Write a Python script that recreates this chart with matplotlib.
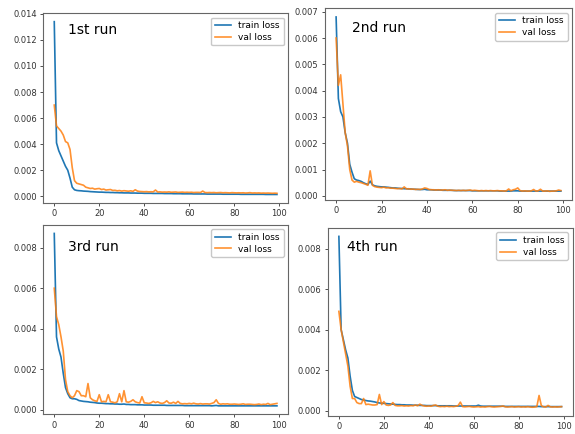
import numpy as np
import matplotlib
matplotlib.use("Agg")
import matplotlib.pyplot as plt
from matplotlib.ticker import MultipleLocator

# loss values, in units of 1e-4
epochs = np.arange(100)

train1 = np.array([
    134, 41, 35, 31, 27, 23, 20, 14, 7, 5,
    4.5, 4.3, 4.2, 4.0, 3.9, 3.8, 3.6, 3.5, 3.4, 3.3,
    3.2, 3.2, 3.1, 3.0, 3.0, 2.9, 2.9, 2.8, 2.8, 2.7,
    2.7, 2.6, 2.6, 2.6, 2.5, 2.5, 2.5, 2.4, 2.4, 2.4,
    2.3, 2.3, 2.3, 2.3, 2.2, 2.2, 2.2, 2.2, 2.2, 2.1,
    2.1, 2.1, 2.1, 2.0, 2.0, 2.0, 2.0, 1.9, 1.9, 1.9,
    1.9, 1.9, 1.8, 1.8, 1.8, 1.8, 1.8, 1.8, 1.7, 1.7,
    1.7, 1.7, 1.7, 1.7, 1.7, 1.6, 1.6, 1.6, 1.6, 1.6,
    1.6, 1.6, 1.6, 1.5, 1.5, 1.5, 1.5, 1.5, 1.5, 1.5,
    1.5, 1.5, 1.5, 1.5, 1.4, 1.4, 1.4, 1.4, 1.4, 1.4]) * 1e-4
val1 = np.array([
    70, 54, 52, 50, 47, 42, 41, 36, 22, 12,
    10, 9.5, 9.0, 8.5, 7.0, 6.5, 6.0, 6.2, 5.5, 5.8,
    6.0, 5.2, 5.5, 4.8, 5.0, 5.2, 4.5, 4.6, 4.2, 4.4,
    4.0, 4.3, 4.1, 3.9, 4.2, 3.8, 5.0, 4.0, 3.7, 3.6,
    3.5, 3.6, 3.4, 3.5, 3.4, 4.8, 3.3, 3.4, 3.2, 3.3,
    3.2, 3.4, 3.1, 3.2, 3.3, 3.0, 3.1, 3.2, 3.0, 3.1,
    3.0, 3.1, 2.9, 3.0, 3.0, 2.9, 4.0, 2.9, 2.8, 2.9,
    2.8, 2.9, 2.7, 2.8, 2.9, 2.7, 2.8, 2.7, 2.6, 2.8,
    2.7, 2.6, 2.7, 2.6, 2.7, 2.5, 2.6, 2.8, 2.5, 2.6,
    2.5, 2.6, 2.4, 2.5, 2.4, 2.5, 2.4, 2.3, 2.4, 2.3]) * 1e-4

train2 = np.array([
    68, 37, 32, 30, 24, 20, 12, 9, 6.5, 6.0,
    5.8, 5.5, 5.0, 4.6, 4.3, 5.6, 4.2, 3.8, 3.6, 3.5,
    3.4, 3.4, 3.3, 3.2, 3.1, 3.0, 3.0, 2.9, 2.8, 2.8,
    2.7, 2.7, 2.6, 2.6, 2.5, 2.5, 2.4, 2.4, 2.4, 2.5,
    2.3, 2.3, 2.3, 2.2, 2.2, 2.2, 2.2, 2.1, 2.1, 2.1,
    2.1, 2.1, 2.0, 2.0, 2.0, 2.0, 2.0, 2.0, 2.0, 2.0,
    1.9, 1.9, 1.9, 1.9, 1.9, 1.9, 1.9, 1.9, 1.9, 1.9,
    1.9, 1.9, 1.8, 1.8, 1.8, 1.8, 1.8, 1.8, 1.9, 1.9,
    1.9, 1.8, 1.8, 1.8, 1.8, 1.8, 1.8, 1.8, 1.8, 1.8,
    1.8, 1.8, 1.8, 1.8, 1.8, 1.8, 1.8, 1.8, 1.8, 1.8]) * 1e-4
val2 = np.array([
    60, 42, 46, 35, 24, 19, 10, 6, 5.2, 5.5,
    5.2, 5.0, 4.7, 4.4, 4.0, 9.5, 4.0, 3.5, 3.3, 3.2,
    3.1, 3.3, 3.0, 3.1, 2.9, 2.9, 2.8, 2.7, 2.8, 2.6,
    3.4, 2.6, 2.7, 2.5, 2.6, 2.4, 2.5, 2.4, 2.6, 3.0,
    2.8, 2.4, 2.3, 2.3, 2.2, 2.3, 2.2, 2.2, 2.3, 2.1,
    2.2, 2.1, 2.1, 2.0, 2.1, 2.0, 2.1, 2.0, 2.1, 2.2,
    2.0, 2.1, 2.0, 1.9, 2.0, 1.9, 2.0, 1.9, 2.0, 1.9,
    1.9, 2.0, 1.9, 1.9, 1.8, 1.9, 2.6, 1.9, 2.3, 2.5,
    3.0, 2.0, 1.8, 1.9, 1.8, 1.8, 1.9, 2.4, 1.8, 1.9,
    2.5, 1.8, 1.8, 1.9, 1.7, 1.8, 1.8, 1.9, 2.2, 2.0]) * 1e-4

train3 = np.array([
    87, 36, 30, 26, 18, 11, 8, 6, 5.5, 5.5,
    5.2, 4.6, 4.4, 4.2, 4.1, 4.0, 3.8, 3.7, 3.6, 3.4,
    3.3, 3.3, 3.2, 3.1, 3.1, 3.0, 3.0, 2.9, 2.9, 2.8,
    2.8, 2.9, 2.7, 2.7, 2.6, 2.6, 2.6, 2.5, 2.5, 2.5,
    2.4, 2.4, 2.4, 2.4, 2.3, 2.3, 2.3, 2.3, 2.3, 2.3,
    2.2, 2.2, 2.2, 2.2, 2.2, 2.2, 2.2, 2.2, 2.1, 2.1,
    2.1, 2.1, 2.1, 2.1, 2.1, 2.1, 2.1, 2.1, 2.1, 2.1,
    2.0, 2.1, 2.2, 2.0, 2.0, 2.0, 2.0, 2.0, 2.0, 2.0,
    2.0, 2.0, 2.0, 2.0, 2.0, 2.0, 2.0, 2.0, 2.0, 2.0,
    2.0, 2.0, 2.0, 2.0, 2.0, 2.0, 2.0, 2.0, 2.0, 2.0]) * 1e-4
val3 = np.array([
    60, 46, 42, 36, 29, 15, 9, 7, 6, 7,
    9.5, 9, 7, 7, 6.5, 13, 6, 5, 4.5, 4.2,
    7.5, 4, 4.2, 4, 7.5, 4, 3.8, 3.5, 4, 8,
    4, 9.5, 4, 3.8, 4.2, 5, 4, 3.6, 3.4, 6.5,
    3.5, 3.4, 3.2, 3.5, 4.2, 3.6, 4.0, 3.4, 3.2, 3.6,
    4.5, 3.4, 3.3, 3.8, 3.2, 4.2, 3.2, 3.0, 3.1, 3.0,
    3.2, 3.0, 3.3, 3.0, 2.9, 3.1, 2.9, 3.0, 3.0, 2.9,
    3.2, 3.6, 5.0, 3.2, 2.8, 3.0, 2.9, 3.0, 2.8, 2.8,
    2.9, 2.8, 2.7, 2.8, 3.0, 2.7, 2.8, 2.8, 2.7, 2.6,
    2.7, 2.9, 2.6, 2.8, 2.7, 3.2, 2.6, 2.8, 3.0, 3.2]) * 1e-4

train4 = np.array([
    86, 40, 35, 30, 26, 17, 10, 7, 6.5, 6.0,
    5.5, 5.3, 5.0, 4.8, 4.7, 4.5, 4.3, 4.0, 3.8, 3.7,
    3.6, 3.5, 3.4, 3.3, 3.2, 3.1, 3.0, 3.0, 2.9, 2.9,
    2.8, 2.8, 2.8, 2.7, 2.7, 2.7, 2.6, 2.6, 2.6, 2.5,
    2.5, 2.5, 2.5, 2.5, 2.4, 2.4, 2.4, 2.4, 2.4, 2.4,
    2.4, 2.3, 2.3, 2.3, 2.3, 2.3, 2.3, 2.3, 2.3, 2.3,
    2.3, 2.3, 2.7, 2.3, 2.2, 2.2, 2.2, 2.2, 2.2, 2.2,
    2.2, 2.2, 2.2, 2.2, 2.1, 2.1, 2.1, 2.1, 2.1, 2.1,
    2.1, 2.1, 2.1, 2.1, 2.1, 2.1, 2.1, 2.1, 2.1, 2.1,
    2.0, 2.0, 2.0, 2.0, 2.0, 2.0, 2.0, 2.0, 2.0, 2.0]) * 1e-4
val4 = np.array([
    49, 40, 34, 28, 22, 12, 6, 6, 4, 3.5,
    3.5, 6, 3, 3.2, 3.0, 2.8, 2.8, 3.0, 8, 3,
    4.5, 2.8, 2.6, 2.8, 4.0, 2.6, 2.4, 2.4, 2.5, 2.3,
    2.4, 2.3, 2.5, 2.4, 2.8, 2.4, 3.2, 2.6, 2.3, 2.2,
    2.3, 2.2, 2.6, 2.8, 2.2, 2.0, 2.1, 2.0, 2.2, 2.0,
    2.1, 2.0, 2.2, 2.5, 4.2, 2.0, 1.9, 2.0, 2.1, 1.9,
    1.8, 1.9, 2.0, 1.8, 1.9, 1.8, 2.0, 2.1, 1.9, 1.8,
    1.9, 2.0, 2.1, 2.3, 1.9, 1.8, 1.9, 2.0, 1.8, 1.9,
    2.0, 1.8, 1.9, 1.8, 2.0, 1.8, 1.7, 1.8, 2.0, 7.5,
    2.5, 1.9, 1.8, 2.6, 1.9, 1.8, 1.9, 1.8, 1.9, 2.0]) * 1e-4

runs = ["1st run", "2nd run", "3rd run", "4th run"]
trains = [train1, train2, train3, train4]
vals = [val1, val2, val3, val4]
ysteps = [0.002, 0.001, 0.002, 0.002]

# axes boxes in figure fractions (left, bottom, width, height)
boxes = [(0.075, 0.532, 0.426, 0.438),
         (0.565, 0.539, 0.430, 0.442),
         (0.075, 0.045, 0.426, 0.437),
         (0.570, 0.042, 0.426, 0.433)]
label_pos = [(0.10, 0.91), (0.11, 0.895), (0.10, 0.885), (0.08, 0.90)]

fig = plt.figure(figsize=(5.75, 4.34), dpi=100)

for i in range(4):
    ax = fig.add_axes(boxes[i])
    ax.plot(epochs, trains[i], color="#1f77b4", lw=1.2, label="train loss")
    ax.plot(epochs, vals[i], color="#ff7f0e", lw=1.2, alpha=0.85, label="val loss")
    ax.yaxis.set_major_locator(MultipleLocator(ysteps[i]))
    ax.xaxis.set_major_locator(MultipleLocator(20))
    ax.tick_params(labelsize=6, colors="#333333", length=2.5, width=0.6, pad=2)
    for s in ax.spines.values():
        s.set_color("#666666")
        s.set_linewidth(0.8)
    ax.text(label_pos[i][0], label_pos[i][1], runs[i], transform=ax.transAxes,
            fontsize=10, va="center", ha="left")
    leg = ax.legend(loc="upper right", fontsize=6.5, handlelength=1.8,
                    borderpad=0.4, labelspacing=0.3)
    leg.get_frame().set_edgecolor("#bbbbbb")

plt.savefig("out.png", dpi=100)
